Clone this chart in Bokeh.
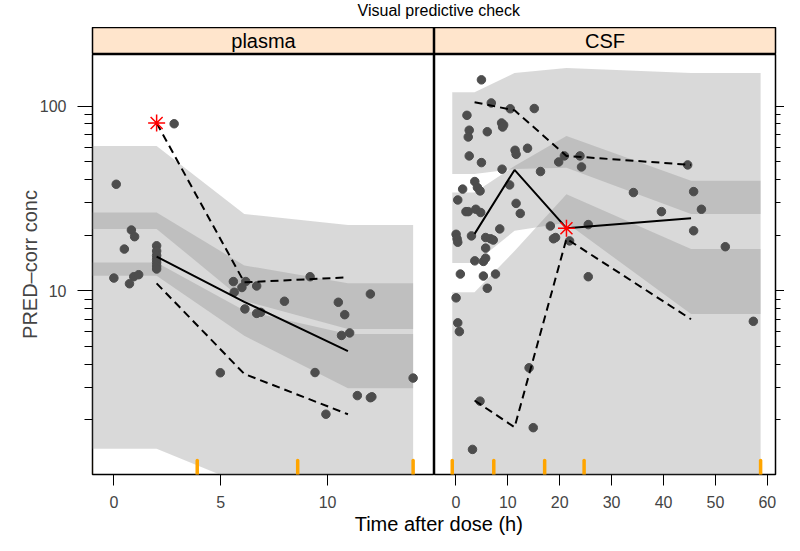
from bokeh.plotting import figure
from bokeh.layouts import column, row
from bokeh.models import Range1d, FixedTicker, BasicTickFormatter
from bokeh.core.properties import value
from bokeh.embed import file_html
from bokeh.resources import INLINE

FONT = "Liberation Sans"

# ---------------- data ----------------
title_text = "Visual predictive check"
panel_names = ["plasma", "CSF"]
x_label = "Time after dose (h)"
y_label = "PRED\u2013corr conc"

y_lim = [1.009, 190.3]
y_major = [10, 100]
y_minor = [2, 3, 4, 5, 6, 7, 8, 9, 20, 30, 40, 50, 60, 70, 80, 90]

# plasma
pl_xlim = [-1.0, 15.0]
pl_xticks = [0, 5, 10]
pl_bounds = [-1.1, 3.9, 8.6, 14.0]
pl_binx = [2.0, 6.1, 10.95]
pl_T_up = [60.8, 26.0, 22.7]
pl_T_lo = [21.6, 8.8, 6.2]
pl_M_up = [26.5, 13.7, 10.95]
pl_M_lo = [12.05, 5.7, 2.96]
pl_L_up = [14.2, 7.8, 5.83]
pl_L_lo = [1.39, 0.89, 0.57]
pl_obs_med = [15.3, 8.7, 4.7]
pl_obs_hi = [80.9, 11.1, 11.8]
pl_obs_lo = [10.95, 3.54, 2.14]
pl_star_x = [2.0]
pl_star_y = [80.9]
pl_pts_x = [2.82, 0.11, 0.82, 0.97, 0.49, 2.0, 2.0, 2.0, 2.0, 2.0, 2.0, 2.0,
            0.0, 0.93, 1.16, 0.73, 5.59, 5.63, 5.99, 6.17, 6.68, 9.18, 6.13,
            6.68, 6.87, 7.98, 4.98, 9.41, 9.92, 10.5, 10.8, 10.65, 11.03,
            12.0, 11.39, 12.0, 12.07, 14.0]
pl_pts_y = [80.2, 37.7, 21.3, 19.6, 16.8, 17.5, 16.4, 15.5, 14.8, 14.2, 13.6,
            13.1, 11.7, 11.9, 12.2, 10.9, 11.2, 9.8, 10.4, 11.2, 10.6, 11.9,
            7.96, 7.53, 7.63, 8.76, 3.59, 3.6, 2.14, 8.65, 7.41, 5.72, 5.9,
            9.59, 2.70, 2.63, 2.66, 3.36]

# CSF
cs_xlim = [-4.12, 61.57]
cs_xticks = [0, 10, 20, 30, 40, 50, 60]
cs_bounds = [-0.7, 7.3, 17.1, 24.7, 58.7]
cs_binx = [3.6, 11.3, 21.3, 45.3]
cs_T_up = [119, 151, 161, 151]
cs_T_lo = [42.8, 45.6, 46.4, 26.0]
cs_M_up = [34.0, 47.4, 68.8, 39.4]
cs_M_lo = [14.1, 21.1, 23.3, 7.48]
cs_L_up = [9.79, 16.4, 33.3, 16.8]
cs_L_lo = [0.5, 0.5, 0.5, 0.5]
cs_obs_med = [20.3, 45.1, 21.8, 24.7]
cs_obs_hi = [105, 94.8, 53.7, 48]
cs_obs_lo = [2.54, 1.82, 19.1, 7.0]
cs_star_x = [21.3]
cs_star_y = [21.8]
cs_pts_x = [4.92, 6.82, 10.48, 15.1, 2.13, 8.8, 9.2, 9.0, 2.57, 2.38, 6.05,
            11.4, 11.6, 13.8, 2.57, 4.92, 19.8, 20.9, 23.9, 24.2, 8.9, 16.3,
            44.65, 3.64, 4.15, 4.66, 1.3, 0.36, 10.35, 34.2, 45.8, 47.3, 39.6,
            1.94, 2.38, 3.84, 4.78, 11.6, 12.4, 18.2, 25.5, 19.2, 18.8, 21.9,
            45.8, 51.9, 0.04, 0.23, 0.36, 3.0, 8.45, 5.73, 6.68, 7.2, 5.73,
            3.64, 5.3, 5.73, 0.86, 5.3, 7.63, 6.05, 25.5, 0.04, 0.36, 0.67,
            57.3, 14.1, 4.65, 14.9, 3.2]
cs_pts_y = [138.7, 104, 96.7, 97, 89.1, 81, 79, 77, 74, 68, 72.6, 57.6, 54.8,
            59.1, 53.7, 49.4, 49.8, 53.7, 53.7, 46.8, 45.5, 44.2, 48, 39.0,
            36.2, 34.7, 35.5, 31, 37.4, 34, 34.4, 27.6, 26.8, 26.8, 26.8, 27.6,
            26.5, 29.7, 26.2, 22.4, 22.8, 19.4, 19.1, 18.6, 21.1, 17.3, 20.2,
            19.1, 18.3, 19.8, 21.6, 19.4, 19.1, 18.8, 17.0, 14.5, 14.4, 15.0,
            12.3, 12.0, 12.3, 10.3, 11.9, 9.14, 6.69, 6.0, 6.82, 3.82, 2.52,
            1.81, 1.38]

# ---------------- layout constants ----------------
LEFT_B = 92
RIGHT_B = 9
FW_L = 342
FW_R = 341
TOTAL_W = LEFT_B + FW_L + FW_R + RIGHT_B
FH = 420
BOT_B = 40
TITLE_H = 27
STRIP_H = 27
XLAB_H = 21

BAND_COLOR = "#888888"
BAND_ALPHA = 0.32
PT_COLOR = "#4d4d4d"
STRIP_COLOR = "#FFE5CC"


def text_fig(txt, h, xpos, ypos, size):
    f = figure(width=TOTAL_W, height=h, x_range=Range1d(0, 1), y_range=Range1d(0, 1),
               toolbar_location=None, output_backend="svg",
               x_axis_location=None, y_axis_location=None,
               min_border_left=LEFT_B, min_border_right=RIGHT_B,
               min_border_top=0, min_border_bottom=0)
    f.outline_line_color = None
    f.grid.visible = False
    f.text(x=[xpos], y=[ypos], text=[txt], text_align="center", text_baseline="middle",
           text_font=value(FONT), text_font_size=size, text_color="black")
    return f


def strip_fig(txt, w, bl, br):
    f = figure(width=w, height=STRIP_H, x_range=Range1d(0, 1), y_range=Range1d(0, 1),
               toolbar_location=None, output_backend="svg",
               x_axis_location=None, y_axis_location=None,
               min_border_left=bl, min_border_right=br,
               min_border_top=0, min_border_bottom=0)
    f.background_fill_color = STRIP_COLOR
    f.outline_line_color = "black"
    f.outline_line_width = 1.5
    f.grid.visible = False
    f.text(x=[0.5], y=[0.5], text=[txt], text_align="center", text_baseline="middle",
           text_font=value(FONT), text_font_size="20px", text_color="black")
    return f


def ext(vals):
    return [vals[0]] + list(vals) + [vals[-1]]


def panel(xlim, xticks, bounds, binx, bands, med, hi, lo, sx, sy, px, py,
          w, bl, br, yloc):
    p = figure(width=w, height=FH + BOT_B, x_range=Range1d(*xlim),
               y_range=Range1d(*y_lim), y_axis_type="log",
               toolbar_location=None, output_backend="svg",
               y_axis_location=yloc,
               min_border_left=bl, min_border_right=br,
               min_border_top=0, min_border_bottom=BOT_B)
    p.grid.visible = False
    p.outline_line_color = "black"
    p.outline_line_width = 1.5
    bx = [bounds[0]] + list(binx) + [bounds[-1]]
    for lo_v, up_v in bands:
        p.varea(x=bx, y1=ext(lo_v), y2=ext(up_v), fill_color=BAND_COLOR,
                fill_alpha=BAND_ALPHA)
    p.scatter(px, py, size=8.5, fill_color=PT_COLOR, line_color=PT_COLOR)
    p.line(binx, med, line_color="black", line_width=2)
    p.line(binx, hi, line_color="black", line_width=2, line_dash="8 5")
    p.line(binx, lo, line_color="black", line_width=2, line_dash="8 5")
    p.scatter(sx, sy, marker="asterisk", size=17, line_color="red", line_width=1.5)
    p.segment(x0=bounds, x1=bounds, y0=[y_lim[0]] * len(bounds),
              y1=[y_lim[0] * 1.19] * len(bounds), line_color="#FFA500",
              line_width=3.5, line_cap="round")

    xa = p.xaxis[0]
    xa.ticker = FixedTicker(ticks=xticks)
    xa.major_tick_out = 11
    xa.major_tick_in = 0
    xa.minor_tick_out = 0
    xa.major_label_standoff = 10
    xa.major_label_text_font = FONT
    xa.major_label_text_font_size = "16px"
    xa.axis_line_color = None
    xa.major_tick_line_color = "black"

    ya = p.yaxis[0]
    ya.ticker = FixedTicker(ticks=y_major, minor_ticks=y_minor)
    ya.formatter = BasicTickFormatter(use_scientific=False)
    ya.major_tick_in = 0
    ya.minor_tick_in = 0
    ya.axis_line_color = None
    ya.major_label_text_font = FONT
    ya.major_label_text_font_size = "16px"
    return p


pl = panel(pl_xlim, pl_xticks, pl_bounds, pl_binx,
           [(pl_T_lo, pl_T_up), (pl_M_lo, pl_M_up), (pl_L_lo, pl_L_up)],
           pl_obs_med, pl_obs_hi, pl_obs_lo, pl_star_x, pl_star_y,
           pl_pts_x, pl_pts_y, LEFT_B + FW_L, LEFT_B, 0, "left")
ly = pl.yaxis[0]
ly.major_tick_out = 15
ly.minor_tick_out = 8
ly.major_label_standoff = 11
ly.axis_label = y_label
ly.axis_label_text_font = FONT
ly.axis_label_text_font_size = "20px"
ly.axis_label_text_font_style = "normal"
ly.axis_label_standoff = -4

cs = panel(cs_xlim, cs_xticks, cs_bounds, cs_binx,
           [(cs_T_lo, cs_T_up), (cs_M_lo, cs_M_up), (cs_L_lo, cs_L_up)],
           cs_obs_med, cs_obs_hi, cs_obs_lo, cs_star_x, cs_star_y,
           cs_pts_x, cs_pts_y, FW_R + RIGHT_B, 0, RIGHT_B, "right")
ry = cs.yaxis[0]
ry.major_tick_out = 9
ry.minor_tick_out = 5
ry.major_label_text_font_size = "1px"
ry.major_label_text_color = None
ry.major_label_standoff = 0

title_f = text_fig(title_text, TITLE_H, 0.507, 0.63, "16px")
xlab_f = text_fig(x_label, XLAB_H, 0.507, 0.54, "20px")
strip_l = strip_fig(panel_names[0], LEFT_B + FW_L, LEFT_B, 0)
strip_r = strip_fig(panel_names[1], FW_R + RIGHT_B, 0, RIGHT_B)

layout = column(title_f, row(strip_l, strip_r), row(pl, cs), xlab_f)

open("out.html", "w").write(file_html(layout, INLINE))
